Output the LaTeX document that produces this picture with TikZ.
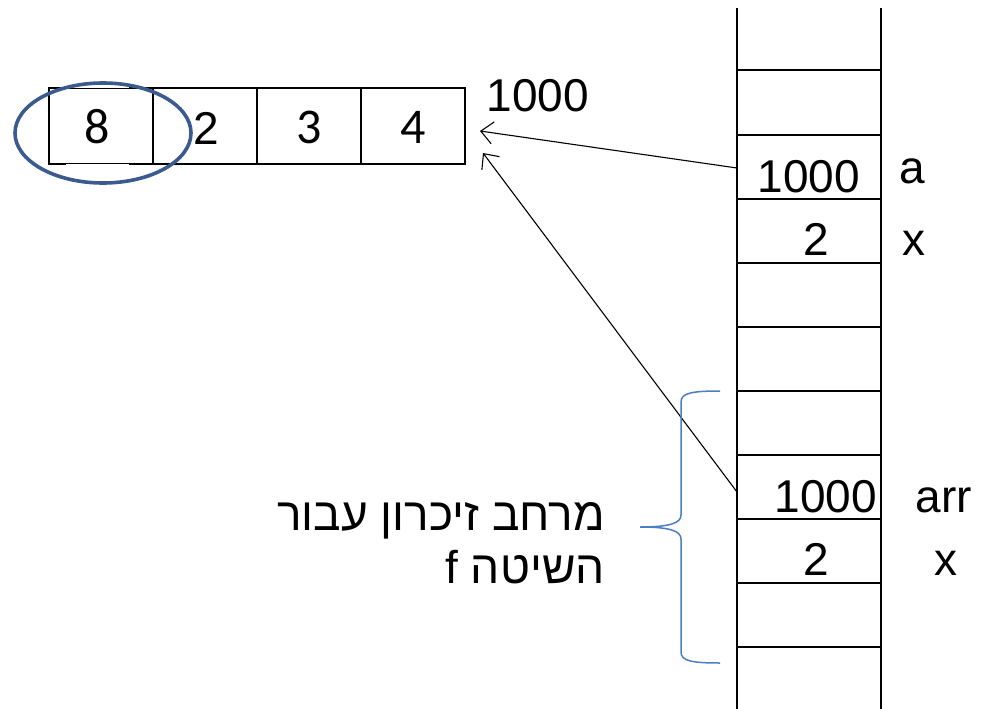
\documentclass[tikz,border=0pt]{standalone}
\usepackage{fontspec}
\setmainfont{Liberation Sans}
\newfontfamily\calfont{Carlito}
\newfontfamily\hebfont[Script=Hebrew]{Liberation Sans}
\TeXXeTstate=1
\usetikzlibrary{arrows.meta}
\definecolor{ringblue}{RGB}{59,91,143}
\definecolor{braceblue}{RGB}{74,126,193}
\tikzset{
  cell/.style={draw, line width=1.6pt, minimum width=104pt, minimum height=76pt, inner sep=0pt, outer sep=0pt, anchor=west},
  big/.style={font=\fontsize{46}{50}\selectfont, inner sep=0pt, anchor=base},
  cal/.style={font=\calfont\fontsize{50}{54}\selectfont, inner sep=0pt, anchor=base},
  heb/.style={font=\hebfont\fontsize{46}{50}\selectfont, inner sep=0pt, anchor=base east},
  ptr/.style={line width=1.1pt, -{Straight Barb[length=12pt,width=22pt,line width=1.1pt]}},
  stackline/.style={line width=1.8pt}
}
\begin{document}
\begin{tikzpicture}[x=1pt,y=-1pt]
\useasboundingbox (0,0) rectangle (990,709);

% the array in memory
\node[cell] (c1) at (49,126) {};
\node[cell] (c2) at (c1.east) {};
\node[cell] (c3) at (c2.east) {};
\node[cell] (c4) at (c3.east) {};
% thinner middle part of the first cell's top and bottom edges
\draw[white, line width=1pt] (66,87.3) -- (129,87.3) (66,164.7) -- (129,164.7);
\node[cal] (v1) at (97,143) {8};
\node[big] (v2) at (206,144) {2};
\node[cal] (v3) at (309,143) {3};
\node[cal] (v4) at (413,143) {4};
\node[big] (addr) at (538,111) {1000};
\draw[ringblue, line width=3.6pt] (103,133) ellipse [x radius=88, y radius=50];

% the stack
\draw[stackline] (737,8) -- (737,709) (881,8) -- (881,709);
\foreach \y in {70,135,199,263,327,391,455,519,583,647}
  \draw[stackline] (737,\y) -- (881,\y);

\node[big] (a) at (809,192) {1000};
\node[big] (an) at (912,183) {a};
\node[big] (x1) at (816,255) {2};
\node[big] (xn1) at (914,255) {x};
\node[big] (arr) at (826,512) {1000};
\node[big] (arrn) at (944,512) {arr};
\node[big] (x2) at (816,575) {2};
\node[big] (xn2) at (946,575) {x};

% pointers to the array
\coordinate (pa) at (737,168);
\coordinate (parr) at (737,492);
\coordinate (ta) at (480,131);
\coordinate (tarr) at (483,153);
\draw[ptr] (pa) -- (ta);
\draw[ptr] (parr) -- (tarr);

% frame of method f
\draw[braceblue, line width=1.5pt]
  (720,391) .. controls (692,391) and (681,393) .. (681,402) -- (681,515)
  .. controls (681,523) and (670,527) .. (640,527)
  .. controls (670,527) and (681,531) .. (681,539) -- (681,652)
  .. controls (681,661) and (692,663) .. (720,663);
\node[heb] (lab1) at (605,530) {\beginR מרחב זיכרון עבור\endR};
\node[heb] (lab2) at (605,583) {\beginR השיטה f\endR};
\end{tikzpicture}
\end{document}
